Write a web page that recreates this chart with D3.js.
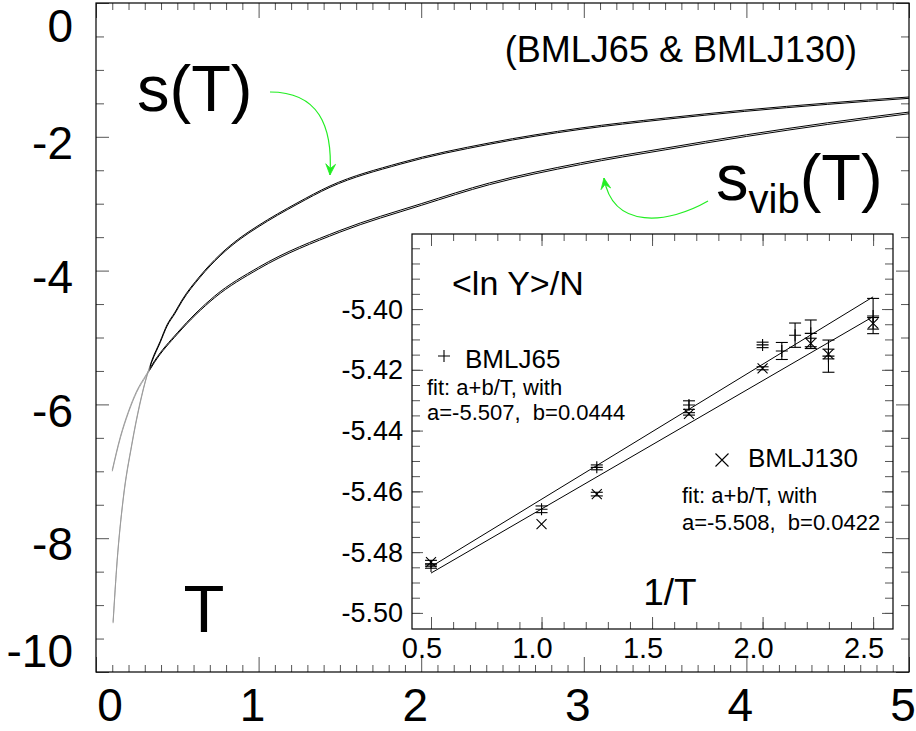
<!DOCTYPE html>
<html>
<head>
<meta charset="utf-8">
<script src="https://cdn.jsdelivr.net/npm/d3@7"></script>
<style>
body{margin:0;background:#fff}
svg{display:block}
text{font-family:"Liberation Sans",Arial,Helvetica,sans-serif;fill:#000}
</style>
</head>
<body>
<svg id="chart" width="916" height="731"></svg>
<script>
// main plot: entropy per particle vs T (two models, nearly on top of each other)
var tempS  = [0.105, 0.13, 0.166, 0.221, 0.27, 0.314, 0.344, 0.394, 0.437, 0.486, 0.529, 0.64, 0.763, 0.886, 0.996, 1.236, 1.439, 1.87, 2.423, 2.977, 3.5, 3.99, 4.5, 5.0];
var s65    = [-9.25, -8.33, -7.43, -6.58, -5.98, -5.56, -5.34, -5.06, -4.81, -4.62, -4.44, -4.08, -3.76, -3.51, -3.33, -2.99, -2.735, -2.39, -2.09, -1.87, -1.72, -1.60, -1.495, -1.405];
var s130   = [-9.27, -8.35, -7.45, -6.60, -6.00, -5.57, -5.36, -5.08, -4.83, -4.64, -4.46, -4.10, -3.78, -3.53, -3.35, -3.01, -2.755, -2.41, -2.11, -1.89, -1.74, -1.62, -1.515, -1.425];
var tempVib = [0.1, 0.15, 0.2, 0.25, 0.31, 0.36, 0.5, 0.73, 1.0, 1.5, 2.0, 2.42, 2.98, 3.5, 4.0, 4.5, 5.0];
var svib65  = [-6.98, -6.48, -6.10, -5.80, -5.55, -5.35, -4.93, -4.38, -3.95, -3.40, -3.00, -2.69, -2.39, -2.17, -1.97, -1.79, -1.63];
var svib130 = [-7.00, -6.50, -6.12, -5.82, -5.57, -5.37, -4.95, -4.405, -3.975, -3.425, -3.025, -2.715, -2.415, -2.195, -1.995, -1.815, -1.655];

var xTicks = [0, 1, 2, 3, 4, 5];
var yTicks = [0, -2, -4, -6, -8, -10];

// inset: <ln Y>/N vs 1/T
var inv65  = [0.5, 1.0, 1.25, 1.667, 2.0, 2.087, 2.147, 2.218, 2.298, 2.5];
var lnY65  = [-5.4846, -5.4659, -5.4521, -5.4316, -5.4118, -5.4138, -5.4086, -5.4080, -5.4155, -5.4023];
var err65  = [0.0007, 0.0011, 0.0008, 0.0014, 0.0009, 0.0028, 0.0040, 0.0044, 0.0053, 0.0058];
var inv130 = [0.5, 1.0, 1.25, 1.667, 2.0, 2.218, 2.298, 2.5];
var lnY130 = [-5.4833, -5.4708, -5.4609, -5.4345, -5.4195, -5.4113, -5.4148, -5.4047];
var err130 = [0.0006, 0, 0.0006, 0.0004, 0.0005, 0.0017, 0.0016, 0.0019];
var fitX   = [0.5, 2.5];
var fit65  = [-5.4848, -5.3960];
var fit130 = [-5.4869, -5.4025];

var insetXTicks = [0.5, 1.0, 1.5, 2.0, 2.5];
var insetYTicks = [-5.40, -5.42, -5.44, -5.46, -5.48, -5.50];

var svg = d3.select("#chart");

var x = d3.scaleLinear().domain([0, 5]).range([96, 909]);
var y = d3.scaleLinear().domain([-10, 0]).range([672, 3]);

function zip(a, b) { return a.map(function(v, i) { return [v, b[i]]; }); }

// ticks (all inward)
function tickSet(g, axis, vals, len) {
    g.append("g").call(axis.tickValues(vals).tickSize(-len).tickFormat(""))
        .call(function(s) { s.select(".domain").remove(); })
        .selectAll("line").attr("stroke", "#555");
}
var xMinor = d3.range(0, 50).map(function(i) { return i / 10; }).filter(function(v) { return v % 1 != 0; });
var yMinor = d3.range(-19, 0).map(function(i) { return i / 2; }).filter(function(v) { return v % 2 != 0; });

var mainAx = svg.append("g");
tickSet(mainAx.append("g").attr("transform", "translate(0,672)"), d3.axisBottom(x), xMinor, 7);
tickSet(mainAx.append("g").attr("transform", "translate(0,672)"), d3.axisBottom(x), xTicks, 15);
tickSet(mainAx.append("g").attr("transform", "translate(0,3)"), d3.axisTop(x), xMinor, 7);
tickSet(mainAx.append("g").attr("transform", "translate(0,3)"), d3.axisTop(x), xTicks, 15);
tickSet(mainAx.append("g").attr("transform", "translate(96,0)"), d3.axisLeft(y), yMinor, 8);
tickSet(mainAx.append("g").attr("transform", "translate(96,0)"), d3.axisLeft(y), yTicks, 13);
tickSet(mainAx.append("g").attr("transform", "translate(909,0)"), d3.axisRight(y), yMinor, 8);
tickSet(mainAx.append("g").attr("transform", "translate(909,0)"), d3.axisRight(y), yTicks, 13);

svg.append("rect").attr("x", 96).attr("y", 3).attr("width", 813).attr("height", 669)
    .attr("fill", "none").attr("stroke", "#000").attr("stroke-width", 1.2);

// tick labels
svg.selectAll(".xl").data(xTicks).enter().append("text")
    .attr("x", function(d) { return d == 0 ? 110 : x(d) - 6; })
    .attr("y", 721).attr("text-anchor", "middle").attr("font-size", 46)
    .text(function(d) { return d; });
svg.selectAll(".yl").data(yTicks).enter().append("text")
    .attr("x", 73)
    .attr("y", function(d) { return d == 0 ? 26 : (d == -10 ? 651 : y(d) + 6); })
    .attr("dy", "0.35em").attr("text-anchor", "end").attr("font-size", 46)
    .text(function(d) { return d; });

// curves
var line = d3.line().x(function(d) { return x(d[0]); }).y(function(d) { return y(d[1]); })
    .curve(d3.curveMonotoneX);
var defs = svg.append("defs");
defs.append("clipPath").attr("id", "hiT").append("rect")
    .attr("x", x(0.33)).attr("y", 3).attr("width", 909 - x(0.33)).attr("height", 669);
defs.append("clipPath").attr("id", "loT").append("rect")
    .attr("x", 96).attr("y", 3).attr("width", x(0.33) - 96).attr("height", 669);

var curves = [zip(tempS, s65), zip(tempS, s130), zip(tempVib, svib65), zip(tempVib, svib130)];
curves.forEach(function(c) {
    svg.append("path").attr("d", line(c)).attr("fill", "none")
        .attr("stroke", "#999").attr("stroke-width", 0.9).attr("clip-path", "url(#loT)");
    svg.append("path").attr("d", line(c)).attr("fill", "none")
        .attr("stroke", "#000").attr("stroke-width", 1).attr("clip-path", "url(#hiT)");
});

// labels and green arrows
svg.append("text").attr("x", 137).attr("y", 111).attr("font-size", 65).text("s(T)");
var sv = svg.append("text").attr("x", 716).attr("y", 200).attr("font-size", 65);
sv.append("tspan").text("s");
sv.append("tspan").attr("font-size", 40).attr("dy", 13).text("vib");
sv.append("tspan").attr("dy", -13).text("(T)");
svg.append("text").attr("x", 857).attr("y", 62).attr("text-anchor", "end")
    .attr("font-size", 36).text("(BMLJ65 & BMLJ130)");
svg.append("text").attr("x", 204).attr("y", 632).attr("text-anchor", "middle")
    .attr("font-size", 67).text("T");

var green = "#22ee22";
var arrowS = [[1.070, -1.330], [1.365, -1.330], [1.458, -1.824], [1.439, -2.571]];
var arrowV = [[3.764, -2.960], [3.518, -3.304], [3.179, -3.394], [3.124, -2.616]];
function bez(p) {
    return "M" + x(p[0][0]) + "," + y(p[0][1]) + "C" + x(p[1][0]) + "," + y(p[1][1]) + " " +
        x(p[2][0]) + "," + y(p[2][1]) + " " + x(p[3][0]) + "," + y(p[3][1]);
}
function head(p) {
    var tip = [x(p[3][0]), y(p[3][1])];
    var from = [x(p[2][0]), y(p[2][1])];
    var a = Math.atan2(tip[1] - from[1], tip[0] - from[0]);
    var L = 12, w = 0.42;
    var p1 = [tip[0] - L * Math.cos(a - w), tip[1] - L * Math.sin(a - w)];
    var p2 = [tip[0] - L * Math.cos(a + w), tip[1] - L * Math.sin(a + w)];
    var m = [tip[0] - 0.55 * L * Math.cos(a), tip[1] - 0.55 * L * Math.sin(a)];
    return "M" + tip + "L" + p1 + "L" + m + "L" + p2 + "Z";
}
[arrowS, arrowV].forEach(function(p) {
    svg.append("path").attr("d", bez(p)).attr("fill", "none").attr("stroke", green).attr("stroke-width", 1.2);
    svg.append("path").attr("d", head(p)).attr("fill", green).attr("stroke", green).attr("stroke-width", 0.8);
});

// ---- inset ----
var ix = d3.scaleLinear().domain([0.414, 2.59]).range([412, 893]);
var iy = d3.scaleLinear().domain([-5.5053, -5.3753]).range([629, 234]);
var inset = svg.append("g");
inset.append("rect").attr("x", 412).attr("y", 234).attr("width", 481).attr("height", 395)
    .attr("fill", "#fff");

var ixMinor = d3.range(5, 26).map(function(i) { return i / 10; });
var iyMinor = d3.range(0, 25).map(function(i) { return -5.50 + i * 0.005; });
tickSet(inset.append("g").attr("transform", "translate(0,629)"), d3.axisBottom(ix), ixMinor, 7);
tickSet(inset.append("g").attr("transform", "translate(0,629)"), d3.axisBottom(ix), insetXTicks, 12);
tickSet(inset.append("g").attr("transform", "translate(0,234)"), d3.axisTop(ix), ixMinor, 7);
tickSet(inset.append("g").attr("transform", "translate(0,234)"), d3.axisTop(ix), insetXTicks, 12);
tickSet(inset.append("g").attr("transform", "translate(412,0)"), d3.axisLeft(iy), iyMinor, 8);
tickSet(inset.append("g").attr("transform", "translate(412,0)"), d3.axisLeft(iy), insetYTicks, 11);
tickSet(inset.append("g").attr("transform", "translate(893,0)"), d3.axisRight(iy), iyMinor, 8);
tickSet(inset.append("g").attr("transform", "translate(893,0)"), d3.axisRight(iy), insetYTicks, 11);
inset.append("rect").attr("x", 412).attr("y", 234).attr("width", 481).attr("height", 395)
    .attr("fill", "none").attr("stroke", "#000").attr("stroke-width", 1.2);

inset.selectAll(".ixl").data(insetXTicks).enter().append("text")
    .attr("x", function(d) { return ix(d) - 9; }).attr("y", 658)
    .attr("text-anchor", "middle").attr("font-size", 29)
    .text(function(d) { return d.toFixed(1); });
inset.selectAll(".iyl").data(insetYTicks).enter().append("text")
    .attr("x", 403).attr("y", function(d) { return iy(d); }).attr("dy", "0.35em")
    .attr("text-anchor", "end").attr("font-size", 27)
    .text(function(d) { return d.toFixed(2); });

// fit lines
[fit65, fit130].forEach(function(f) {
    inset.append("line").attr("x1", ix(fitX[0])).attr("y1", iy(f[0]))
        .attr("x2", ix(fitX[1])).attr("y2", iy(f[1]))
        .attr("stroke", "#000").attr("stroke-width", 1);
});

function errBar(g, xv, yv, e) {
    if (!e) return;
    var cx = ix(xv), y1 = iy(yv - e), y2 = iy(yv + e);
    g.append("line").attr("x1", cx).attr("x2", cx).attr("y1", y1).attr("y2", y2);
    g.append("line").attr("x1", cx - 6).attr("x2", cx + 6).attr("y1", y1).attr("y2", y1);
    g.append("line").attr("x1", cx - 6).attr("x2", cx + 6).attr("y1", y2).attr("y2", y2);
}
function plus(g, cx, cy, r) {
    g.append("path").attr("d", "M" + (cx - r) + "," + cy + "H" + (cx + r) + "M" + cx + "," + (cy - r) + "V" + (cy + r));
}
function cross(g, cx, cy, r) {
    g.append("path").attr("d", "M" + (cx - r) + "," + (cy - r) + "L" + (cx + r) + "," + (cy + r) +
        "M" + (cx - r) + "," + (cy + r) + "L" + (cx + r) + "," + (cy - r));
}
var pts = inset.append("g").attr("stroke", "#000").attr("stroke-width", 1.1).attr("fill", "none");
inv65.forEach(function(v, i) {
    errBar(pts, v, lnY65[i], err65[i]);
    plus(pts, ix(v), iy(lnY65[i]), 6);
});
inv130.forEach(function(v, i) {
    errBar(pts, v, lnY130[i], err130[i]);
    cross(pts, ix(v), iy(lnY130[i]), 5);
});

// inset legend and texts
plus(pts, 444, 356, 6);
cross(pts, 722, 460, 6.5);
inset.append("text").attr("x", 452).attr("y", 295).attr("font-size", 34).text("<ln Y>/N");
inset.append("text").attr("x", 465).attr("y", 368).attr("font-size", 26).text("BMLJ65");
inset.append("text").attr("x", 427).attr("y", 395).attr("font-size", 22).text("fit: a+b/T, with");
inset.append("text").attr("x", 427).attr("y", 420).attr("font-size", 22).attr("xml:space", "preserve")
    .text("a=-5.507,  b=0.0444");
inset.append("text").attr("x", 748).attr("y", 467).attr("font-size", 26).text("BMLJ130");
inset.append("text").attr("x", 682).attr("y", 503).attr("font-size", 22).text("fit: a+b/T, with");
inset.append("text").attr("x", 682).attr("y", 530).attr("font-size", 22).attr("xml:space", "preserve")
    .text("a=-5.508,  b=0.0422");
inset.append("text").attr("x", 670).attr("y", 605).attr("text-anchor", "middle")
    .attr("font-size", 37).text("1/T");
</script>
</body>
</html>
